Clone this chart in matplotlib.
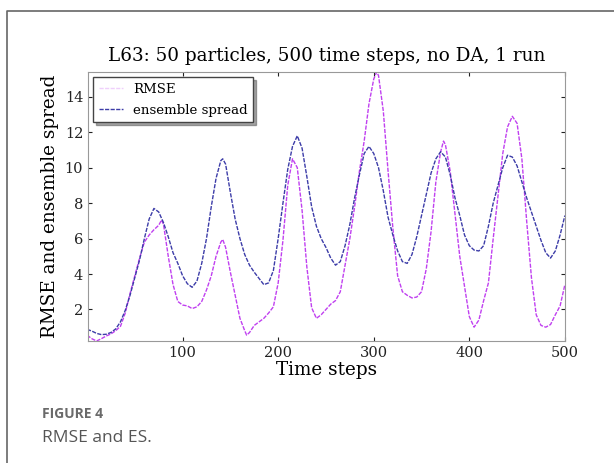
import numpy as np
import matplotlib
matplotlib.use('Agg')
import matplotlib.pyplot as plt
from matplotlib.lines import Line2D

# Values
t_spread = [0, 5, 10, 15, 20, 25, 30, 35, 40, 45, 50, 55, 60, 65, 70, 75, 80, 85, 90, 95,
            100, 105, 110, 115, 120, 125, 130, 135, 140, 142, 145, 150, 155, 160, 165, 170,
            175, 180, 185, 190, 195, 200, 205, 210, 215, 220, 225, 230, 235, 240, 245, 250,
            255, 260, 265, 270, 275, 280, 285, 290, 295, 300, 305, 310, 315, 320, 325, 330,
            335, 340, 345, 350, 355, 360, 365, 370, 375, 380, 385, 390, 395, 400, 405, 410,
            415, 420, 425, 430, 435, 440, 445, 450, 455, 460, 465, 470, 475, 480, 485, 490,
            495, 500]
spread = [0.88, 0.78, 0.65, 0.58, 0.6, 0.7, 0.9, 1.3, 1.95, 2.8, 3.8, 4.8, 6.0, 7.1, 7.7, 7.5,
          6.9, 6.1, 5.2, 4.6, 3.9, 3.45, 3.25, 3.6, 4.6, 6.0, 7.8, 9.4, 10.4, 10.5, 10.2, 8.6,
          7.1, 6.0, 5.1, 4.5, 4.1, 3.75, 3.4, 3.5, 4.2, 6.0, 8.0, 9.9, 11.2, 11.8, 11.1, 9.5,
          7.8, 6.7, 6.0, 5.5, 4.9, 4.5, 4.7, 5.6, 6.8, 8.3, 9.6, 10.8, 11.2, 10.8, 10.0, 8.7,
          7.2, 6.2, 5.3, 4.7, 4.6, 5.1, 6.1, 7.3, 8.5, 9.7, 10.5, 10.9, 10.6, 9.6, 8.3, 7.3,
          6.2, 5.6, 5.35, 5.3, 5.6, 6.7, 8.0, 9.0, 10.0, 10.7, 10.6, 10.1, 9.2, 8.3, 7.5, 6.7,
          5.9, 5.2, 4.9, 5.3, 6.2, 7.3]

t_rmse = [0, 5, 10, 15, 20, 25, 30, 35, 40, 45, 50, 55, 60, 65, 70, 75, 78, 80, 85, 90, 95,
          100, 105, 110, 115, 120, 125, 130, 135, 140, 142, 145, 150, 155, 160, 165, 167, 170,
          175, 180, 185, 190, 195, 200, 205, 210, 215, 220, 225, 230, 235, 240, 245, 250, 255,
          260, 265, 270, 275, 280, 285, 290, 295, 300, 303, 305, 310, 315, 320, 325, 330, 335,
          340, 345, 350, 355, 360, 365, 370, 373, 375, 380, 385, 390, 395, 400, 405, 410, 415,
          420, 425, 430, 435, 440, 445, 450, 455, 460, 465, 470, 475, 480, 485, 490, 495, 500]
rmse = [0.55, 0.35, 0.22, 0.35, 0.5, 0.62, 0.8, 1.05, 1.8, 2.9, 3.9, 4.9, 5.8, 6.2, 6.5, 6.75,
        7.05, 6.8, 5.0, 3.4, 2.45, 2.25, 2.2, 2.05, 2.15, 2.45, 3.1, 3.9, 5.0, 5.8, 5.95, 5.5,
        4.1, 2.8, 1.5, 0.8, 0.55, 0.7, 1.1, 1.3, 1.5, 1.8, 2.15, 3.5, 5.9, 9.0, 10.5, 10.0,
        7.6, 4.4, 2.1, 1.5, 1.7, 2.0, 2.3, 2.5, 3.0, 4.5, 6.0, 7.8, 9.8, 11.5, 13.6, 15.0,
        15.4, 15.2, 13.2, 9.8, 6.6, 3.9, 3.0, 2.8, 2.65, 2.7, 3.0, 4.3, 6.4, 9.2, 10.9, 11.5,
        11.3, 9.8, 7.4, 5.0, 3.3, 1.6, 1.0, 1.4, 2.5, 3.5, 6.0, 8.4, 10.8, 12.3, 12.9, 12.5,
        10.5, 7.0, 3.8, 1.7, 1.1, 1.0, 1.15, 1.7, 2.2, 3.4]

x_ticks = [100, 200, 300, 400, 500]
y_ticks = [2, 4, 6, 8, 10, 12, 14]

plt.rcParams['font.family'] = 'DejaVu Serif'
plt.rcParams['xtick.direction'] = 'in'
plt.rcParams['ytick.direction'] = 'in'

fig = plt.figure(figsize=(6.14, 4.63), dpi=100)
ax = fig.add_axes([0.1433, 0.2635, 0.7767, 0.581])

ax.plot(t_rmse, rmse, color='#c040f0', linestyle=(0, (3, 1)), lw=1.0, label='RMSE')
ax.plot(t_spread, spread, color='#3c3ca8', linestyle=(0, (3, 1)), lw=1.0, label='ensemble spread')

ax.set_xlim(1, 500)
ax.set_ylim(min(rmse), max(rmse))
ax.set_xticks(x_ticks)
ax.set_yticks(y_ticks)
ax.tick_params(top=True, right=True, labelsize=10.5, colors='#222222', length=3)
for s in ax.spines.values():
    s.set_color('#999999')

ax.set_title('L63: 50 particles, 500 time steps, no DA, 1 run', fontsize=13.2, pad=8)
ax.set_xlabel('Time steps', fontsize=13.2, labelpad=1)
ax.set_ylabel('RMSE and ensemble spread', fontsize=13.2, labelpad=4)

leg = ax.legend(loc='upper left', fontsize=9.6, fancybox=False, shadow=True,
                borderaxespad=0.4, handlelength=1.8, labelspacing=0.6, framealpha=1)
leg.get_frame().set_edgecolor('#444444')
leg.get_lines()[0].set_alpha(0.25)

# caption and page frame
fig.add_artist(Line2D([0.0114, 0.0114, 1.0], [0.0, 0.976, 0.976], color='#666666', lw=1.2))
fig.text(0.068, 0.097, 'FIGURE 4', family='Open Sans', fontsize=10, fontweight='bold', color='#6a6a6a')
fig.text(0.068, 0.045, 'RMSE and ES.', family='Open Sans', fontsize=12.5, color='#555555')

fig.savefig('out.png', dpi=100)
